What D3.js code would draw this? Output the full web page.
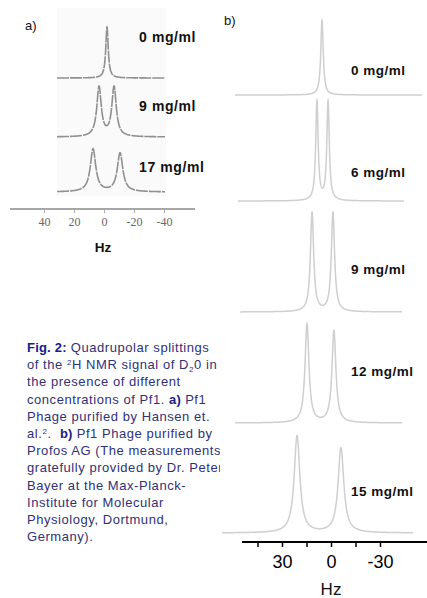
<!DOCTYPE html>
<html><head><meta charset="utf-8">
<script src="https://cdn.jsdelivr.net/npm/d3@7"></script>
<style>body{margin:0;background:#fff}svg{display:block}text{white-space:pre}</style>
</head><body><svg id="c" width="427" height="598"></svg>
<script>
// ---- Panel a data (Hansen et al. phage) ----
const concA = ["0 mg/ml", "9 mg/ml", "17 mg/ml"];
const peaksAPos = [[-2], [3.3, -6.7], [7.3, -10.7]];      // Hz
const peaksAAmp = [[1.0], [0.97, 0.97], [0.84, 0.76]];     // relative intensity
const peaksAHwhm = [1.0, 1.8, 2.2];                        // Hz
const rangeA = [31.3, -40.7];                              // Hz extent of traces
const ticksA = [40, 20, 0, -20, -40];

// ---- Panel b data (Profos AG phage) ----
const concB = ["0 mg/ml", "6 mg/ml", "9 mg/ml", "12 mg/ml", "15 mg/ml"];
const peaksBPos = [[5.5], [8.6, 1.8], [11.6, -1.2], [14.7, -1.8], [20.8, -6.1]];
const peaksBAmp = [[0.74], [0.98, 0.98], [0.98, 0.98], [0.98, 0.91], [0.96, 0.84]];
const peaksBHwhm = [0.9, 0.9, 1.2, 1.45, 2.1];
const rangeB = [[58.8, -55.7], [57, -44.7], [55.7, -43.5], [58.8, -43.5], [66.7, -50.2]];
const ticksB = [45, 30, 15, 0, -15, -30];
const tickLabelsB = [30, 0, -30];

// ---- Caption ----
const captionLines = [
  [["Fig. 2:", "b"], [" Quadrupolar splittings", ""]],
  [["of the ", ""], ["2", "sup"], ["H NMR signal of D", ""], ["2", "sub"], ["0 in", ""]],
  [["the presence of different", ""]],
  [["concentrations of Pf1. ", ""], ["a)", "b2"], [" Pf1", ""]],
  [["Phage purified by Hansen et.", ""]],
  [["al.", ""], ["2", "sup"], [".  ", ""], ["b)", "b2"], [" Pf1 Phage purified by", ""]],
  [["Profos AG (The measurements", ""]],
  [["gratefully provided by Dr. Peter", ""]],
  [["Bayer at the Max-Planck-", ""]],
  [["Institute for Molecular", ""]],
  [["Physiology, Dortmund,", ""]],
  [["Germany).", ""]]
];

// ---- layout ----
const svg = d3.select("#c");
const baseA = [78, 137, 192], unitA = 51;
const baseB = [95, 201, 312, 423, 533], unitB = 101;
const SANS = "Liberation Sans, Arial, sans-serif";

function lorentz(hz, pos, amp, w) {
  let s = 0;
  for (let i = 0; i < pos.length; i++) s += amp[i] / (1 + ((hz - pos[i]) / w) ** 2);
  return s;
}
function samples(r, pos, amp, w) {
  const pts = [];
  const n = Math.round((r[0] - r[1]) / 0.05);
  for (let i = 0; i <= n; i++) {
    const hz = r[0] - (r[0] - r[1]) * i / n;
    pts.push({hz, v: lorentz(hz, pos, amp, w)});
  }
  return pts;
}

// Panel a
const xA = d3.scaleLinear().domain([40, -40]).range([44, 164]);
svg.append("rect").attr("x", 57).attr("y", 8).attr("width", 109).attr("height", 188).attr("fill", "#fafafa");
concA.forEach((c, i) => {
  const yA = d3.scaleLinear().domain([0, 1]).range([baseA[i], baseA[i] - unitA]);
  const line = d3.line().x(d => xA(d.hz)).y(d => yA(d.v));
  svg.append("path").datum(samples(rangeA, peaksAPos[i], peaksAAmp[i], peaksAHwhm[i]))
    .attr("d", line).attr("fill", "none").attr("stroke", "#909090").attr("stroke-width", 1.6)
    .attr("stroke-dasharray", "12,1");
  svg.append("text").attr("x", 139).attr("y", [42, 111, 172][i]).text(c)
    .attr("font-family", SANS).attr("font-weight", "bold")
    .attr("font-size", 14).attr("letter-spacing", 0.6).attr("fill", "#111");
});
svg.append("line").attr("x1", 10).attr("x2", 195).attr("y1", 209).attr("y2", 209)
  .attr("stroke", "#8a8a8a").attr("stroke-width", 1.6);
const axA = svg.append("g").attr("transform", "translate(0,209)")
  .call(d3.axisBottom(xA).tickValues(ticksA).tickSize(4).tickSizeOuter(0).tickPadding(4)
    .tickFormat(d => String(d)));
axA.select(".domain").remove();
axA.selectAll(".tick line").attr("stroke", "#aaa").attr("stroke-width", 1);
axA.selectAll(".tick text").attr("font-family", "Liberation Serif, Times New Roman, serif")
  .attr("font-size", 12).attr("fill", "#666");
svg.append("text").attr("x", 103).attr("y", 252).attr("text-anchor", "middle").text("Hz")
  .attr("font-family", SANS).attr("font-weight", "bold")
  .attr("font-size", 13.5).attr("fill", "#111");
svg.append("text").attr("x", 25).attr("y", 30).text("a)")
  .attr("font-family", SANS).attr("font-size", 13).attr("fill", "#111");

// Panel b
const xB = d3.scaleLinear().domain([30, -30]).range([282, 380]);
const labelYB = [75, 177, 274, 376, 496];
concB.forEach((c, i) => {
  const yB = d3.scaleLinear().domain([0, 1]).range([baseB[i], baseB[i] - unitB]);
  const line = d3.line().x(d => xB(d.hz)).y(d => yB(d.v));
  svg.append("path").datum(samples(rangeB[i], peaksBPos[i], peaksBAmp[i], peaksBHwhm[i]))
    .attr("d", line).attr("fill", "none").attr("stroke", "#cfcfcf").attr("stroke-width", 1.5);
  svg.append("text").attr("x", 351).attr("y", labelYB[i]).text(c)
    .attr("font-family", SANS).attr("font-weight", "bold")
    .attr("font-size", 13.5).attr("letter-spacing", 0.5).attr("fill", "#111");
});
svg.append("line").attr("x1", 242).attr("x2", 427).attr("y1", 542).attr("y2", 542)
  .attr("stroke", "#000").attr("stroke-width", 2);
const axB = svg.append("g").attr("transform", "translate(0,542)")
  .call(d3.axisBottom(xB).tickValues(ticksB).tickSize(5).tickSizeOuter(0).tickPadding(8)
    .tickFormat(d => tickLabelsB.includes(d) ? String(d) : ""));
axB.select(".domain").remove();
axB.selectAll(".tick line").attr("stroke", "#000").attr("stroke-width", 1.5);
axB.selectAll(".tick text").attr("font-family", SANS)
  .attr("font-size", 18).attr("fill", "#000");
svg.append("text").attr("x", 331).attr("y", 595).attr("text-anchor", "middle").text("Hz")
  .attr("font-family", SANS).attr("font-size", 17).attr("fill", "#111");
svg.append("text").attr("x", 224).attr("y", 25).text("b)")
  .attr("font-family", SANS).attr("font-size", 13).attr("fill", "#111");

// Caption
svg.append("clipPath").attr("id", "capclip").append("rect")
  .attr("x", 0).attr("y", 300).attr("width", 220).attr("height", 260);
const cap = svg.append("g").attr("clip-path", "url(#capclip)");
captionLines.forEach((ln, i) => {
  const t = cap.append("text").attr("x", 27).attr("y", 352 + i * 17.2)
    .attr("font-family", SANS).attr("font-size", 13).attr("letter-spacing", 0.55)
    .attr("fill", "#2f3278");
  let prevKind = "";
  ln.forEach(([s, k]) => {
    const ts = t.append("tspan").text(s);
    if (k === "b") ts.attr("font-weight", "bold").attr("fill", "#14208c").attr("letter-spacing", 0.2);
    if (k === "b2") ts.attr("font-weight", "bold").attr("fill", "#1a2080").attr("letter-spacing", 0.2);
    if (k === "sup") ts.attr("font-size", 8).attr("dy", -4);
    if (k === "sub") ts.attr("font-size", 8).attr("dy", 3);
    if (k !== "sup" && k !== "sub") {
      if (prevKind === "sup") ts.attr("dy", 4);
      if (prevKind === "sub") ts.attr("dy", -3);
    }
    prevKind = k;
  });
});
</script></body></html>
